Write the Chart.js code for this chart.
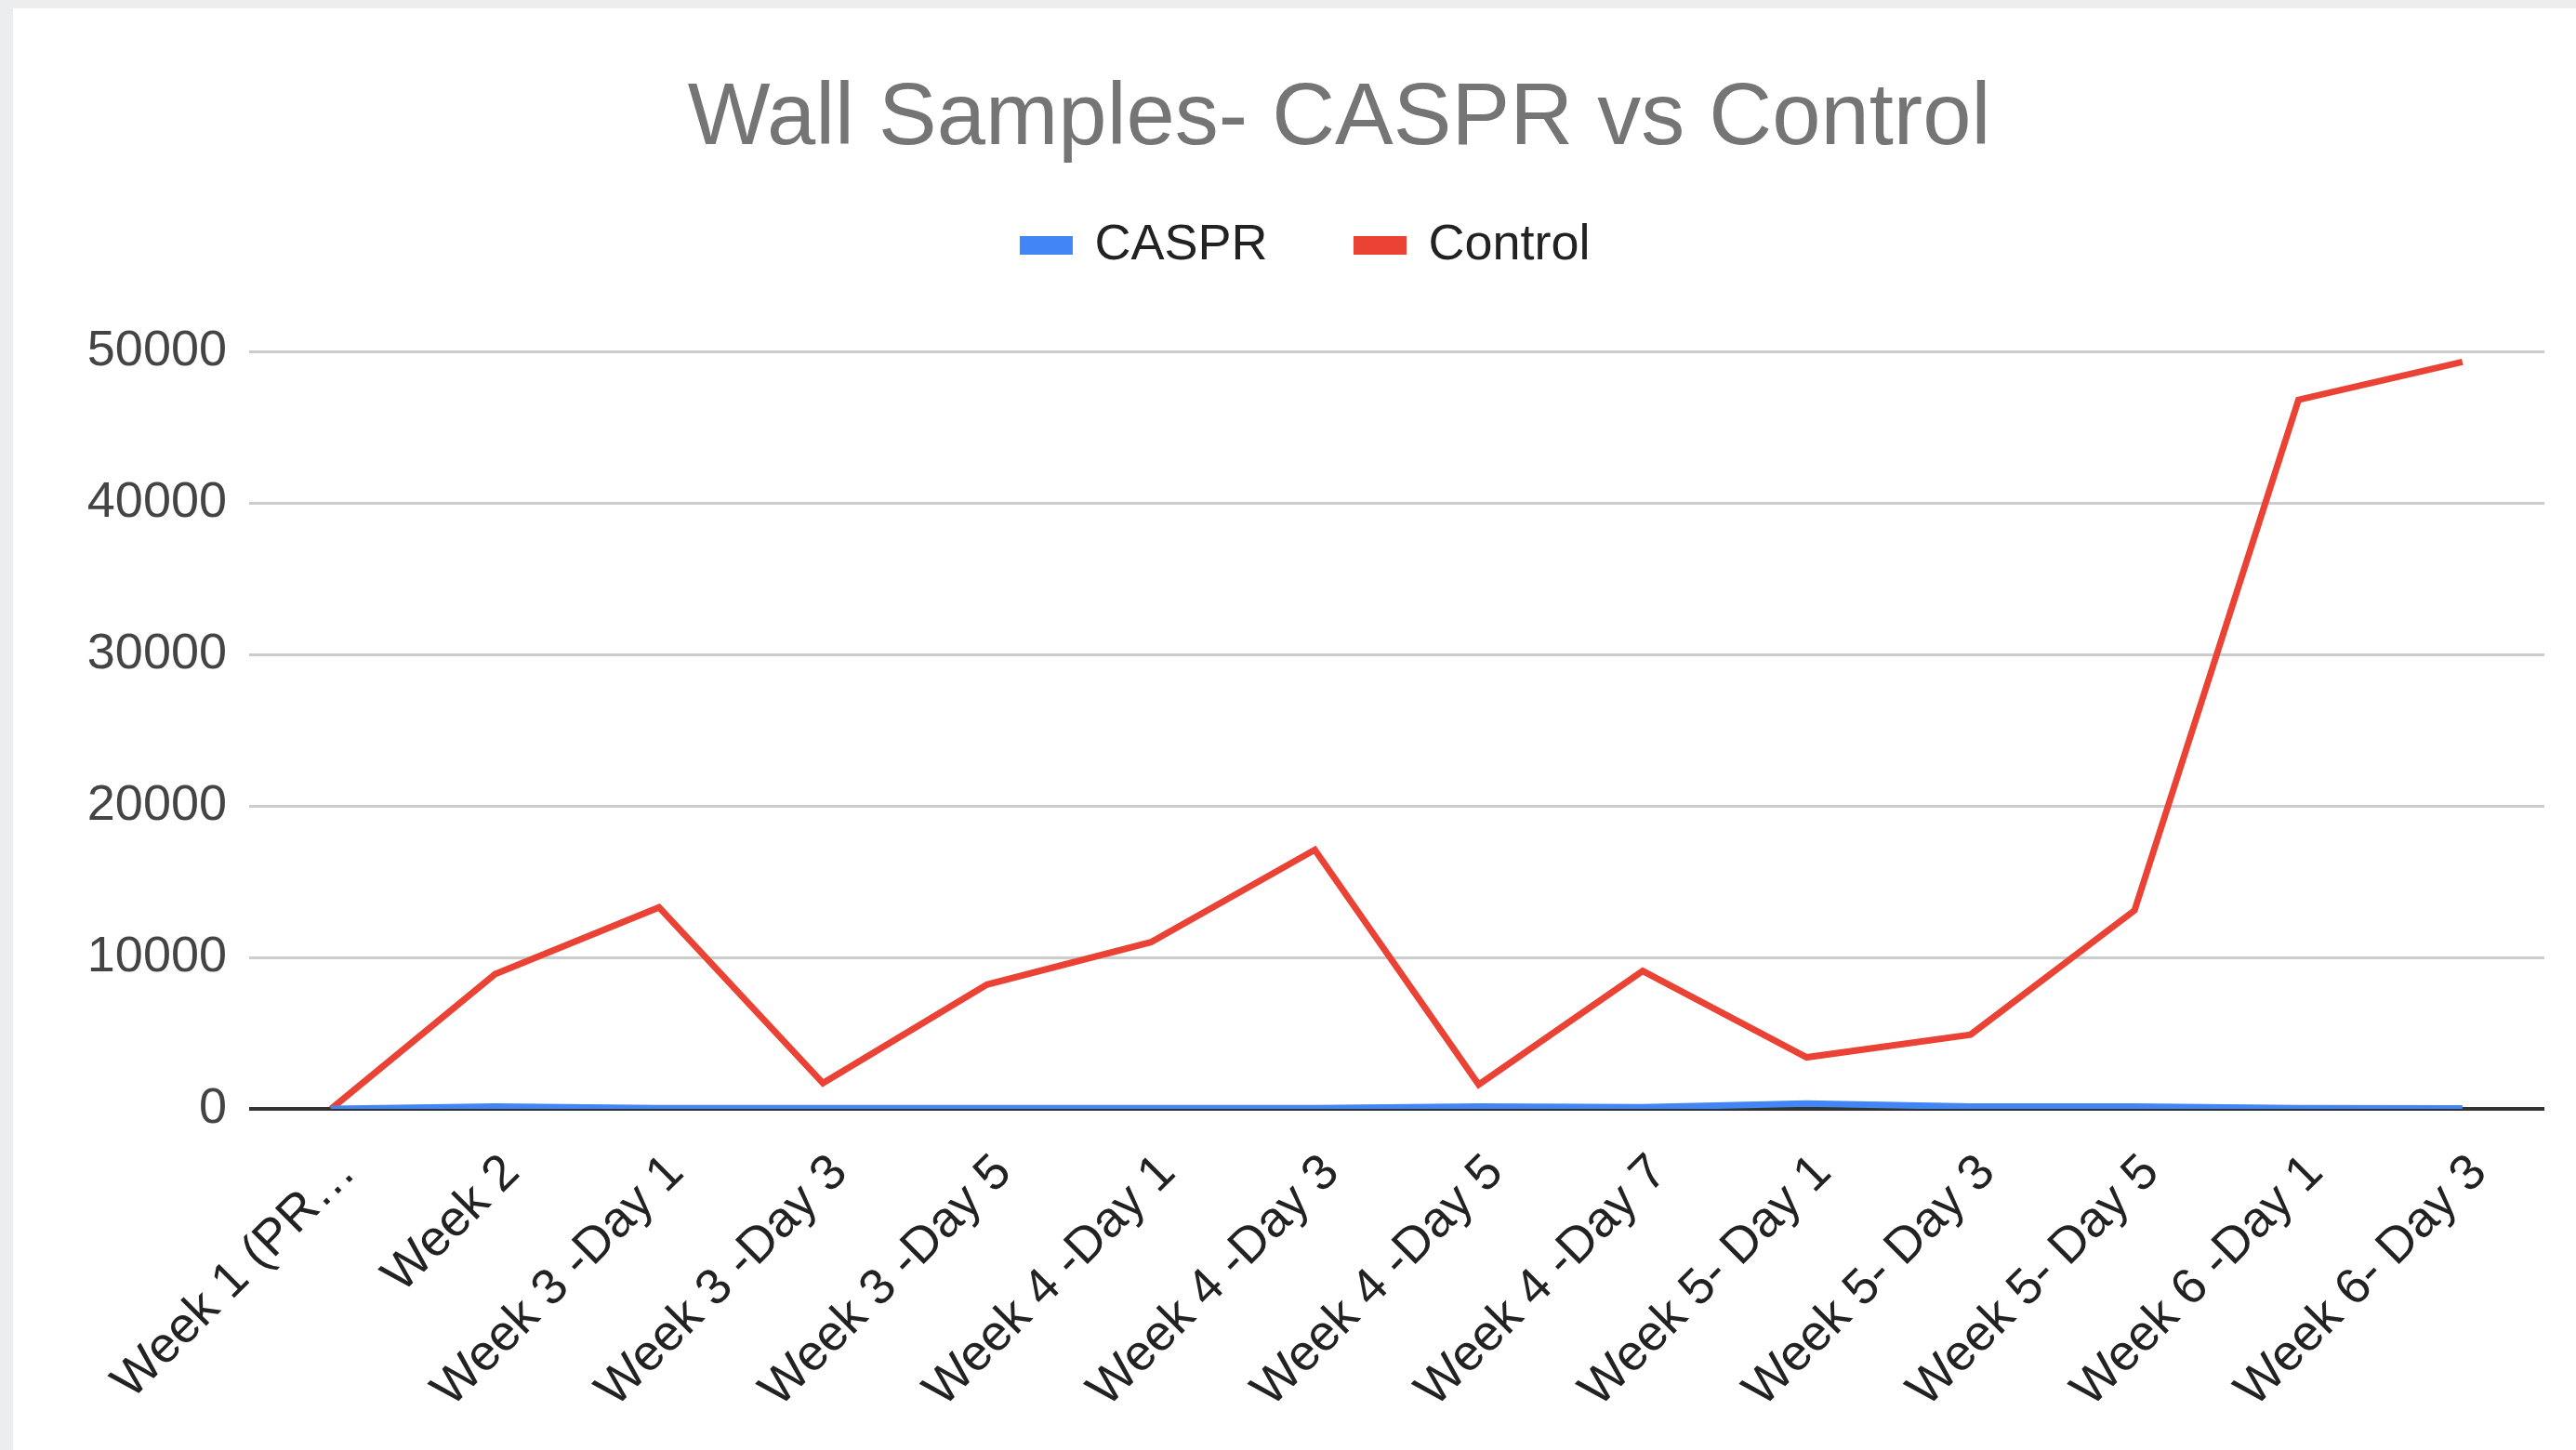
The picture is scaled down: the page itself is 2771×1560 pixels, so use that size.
<!DOCTYPE html>
<html>
<head>
<meta charset="utf-8">
<title>Wall Samples- CASPR vs Control</title>
<script src="https://cdn.jsdelivr.net/npm/chart.js@4.4.1/dist/chart.umd.min.js"></script>
<style>
  html, body { margin: 0; padding: 0; background: #ebedef; }
  #card { position: absolute; left: 14px; top: 9px; width: 2757px; height: 1551px; background: #fff; }
</style>
</head>
<body>
<div id="card"><canvas id="wall" width="2757" height="1551"></canvas></div>
<script>
const weeks = [
  "Week 1 (PR\u2026", "Week 2", "Week 3 -Day 1", "Week 3 -Day 3", "Week 3 -Day 5",
  "Week 4 -Day 1", "Week 4 -Day 3", "Week 4 -Day 5", "Week 4 -Day 7",
  "Week 5- Day 1", "Week 5- Day 3", "Week 5- Day 5", "Week 6 -Day 1", "Week 6- Day 3"
];
const caspr = [0, 150, 50, 50, 50, 50, 50, 150, 100, 350, 150, 150, 50, 30];
const control = [0, 8900, 13300, 1700, 8200, 11000, 17100, 1600, 9100, 3400, 4900, 13100, 46800, 49300];
const yTicks = [0, 10000, 20000, 30000, 40000, 50000];

Chart.defaults.font.family = '"Liberation Sans", Arial, sans-serif';

// sheets-style spacing: plot sits well below the legend, title a bit right of centre
const sheetsLayout = {
  id: 'sheetsLayout',
  beforeInit(chart) {
    const fit = chart.legend.fit;
    chart.legend.fit = function () {
      fit.call(this);
      this.height += 77;
    };
  },
  afterLayout(chart) {
    chart.titleBlock.left += 35;
    chart.titleBlock.right += 35;
  }
};

new Chart(document.getElementById('wall'), {
  type: 'line',
  data: {
    labels: weeks,
    datasets: [
      {
        label: 'CASPR',
        data: caspr,
        borderColor: '#4285f4',
        backgroundColor: '#4285f4',
        borderWidth: 7,
        pointRadius: 0,
        tension: 0
      },
      {
        label: 'Control',
        data: control,
        borderColor: '#ea4335',
        backgroundColor: '#ea4335',
        borderWidth: 7,
        pointRadius: 0,
        tension: 0
      }
    ]
  },
  options: {
    responsive: false,
    animation: false,
    layout: { padding: { left: 60, right: 34, top: 0, bottom: 0 } },
    plugins: {
      title: {
        display: true,
        text: 'Wall Samples- CASPR vs Control',
        color: '#757575',
        font: { size: 94, weight: 'normal' },
        padding: { top: 63.6, bottom: -44.4 }
      },
      legend: {
        labels: {
          boxWidth: 50,
          boxHeight: 13,
          padding: 96,
          color: '#222',
          font: { size: 54 }
        }
      },
      tooltip: { enabled: false }
    },
    scales: {
      x: {
        offset: true,
        grid: { display: false, drawTicks: false },
        border: { display: false },
        ticks: {
          autoSkip: false,
          minRotation: 45,
          maxRotation: 45,
          padding: 37,
          labelOffset: 18,
          color: '#222',
          font: { size: 54 }
        },
        afterFit(scale) { scale.height = 367; }
      },
      y: {
        min: 0,
        max: 50000,
        afterBuildTicks(scale) { scale.ticks = yTicks.map(v => ({ value: v })); },
        grid: {
          color: ctx => ctx.tick && ctx.tick.value === 0 ? '#333' : '#ccc',
          lineWidth: ctx => ctx.tick && ctx.tick.value === 0 ? 4 : 3,
          drawTicks: false
        },
        border: { display: false },
        ticks: {
          padding: 24,
          color: '#444',
          font: { size: 54 },
          callback: v => String(v)
        },
        afterFit(scale) { scale.width = 194; }
      }
    }
  },
  plugins: [sheetsLayout]
});
</script>
</body>
</html>
